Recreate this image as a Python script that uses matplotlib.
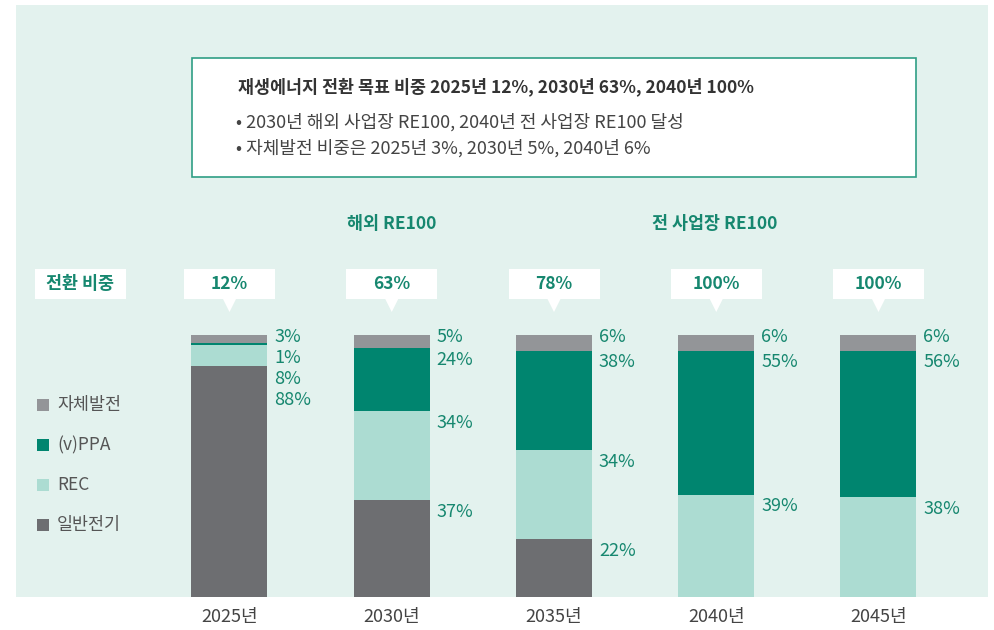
import matplotlib.pyplot as plt
import numpy as np
from matplotlib.patches import Rectangle, Polygon

plt.rcParams['font.family'] = ['Noto Sans CJK KR', 'DejaVu Sans']

# 연도별 전력 구성 비중 (%)
years = ['2025년', '2030년', '2035년', '2040년', '2045년']
general = [88, 37, 22, 0, 0]      # 일반전기
rec = [8, 34, 34, 39, 38]         # REC
ppa = [1, 24, 38, 55, 56]         # (v)PPA
self_gen = [3, 5, 6, 6, 6]        # 자체발전
re_share = ['12%', '63%', '78%', '100%', '100%']

series_names = ['일반전기', 'REC', '(v)PPA', '자체발전']
colors = ['#6d6e71', '#acdcd2', '#00856f', '#939598']
teal = '#16876f'

W, H = 995, 630
fig = plt.figure(figsize=(W / 100, H / 100), dpi=100)

# 배경/주석용 축 (픽셀 좌표)
bg = fig.add_axes([0, 0, 1, 1], zorder=0)
bg.set_xlim(0, W)
bg.set_ylim(H, 0)
bg.axis('off')

bg.add_patch(Rectangle((16, 5), 972, 592, facecolor='#e3f2ee', edgecolor='none'))

# 상단 설명 박스
bg.add_patch(Rectangle((192, 58), 724, 119, facecolor='white',
                       edgecolor='#2f9e85', linewidth=1.2))
bg.text(238, 87, '재생에너지 전환 목표 비중 2025년 12%, 2030년 63%, 2040년 100%',
        fontsize=12.5, fontweight='bold', color='#333333', va='center')
bg.text(236, 122, '• 2030년 해외 사업장 RE100, 2040년 전 사업장 RE100 달성',
        fontsize=13, color='#444444', va='center')
bg.text(236, 148, '• 자체발전 비중은 2025년 3%, 2030년 5%, 2040년 6%',
        fontsize=13, color='#444444', va='center')

bg.text(392, 224, '해외 RE100', fontsize=12.5, fontweight='bold', color=teal,
        ha='center', va='center')
bg.text(715, 224, '전 사업장 RE100', fontsize=12.5, fontweight='bold', color=teal,
        ha='center', va='center')

# 범례
legend_rows = [('자체발전', colors[3]), ('(v)PPA', colors[2]),
               ('REC', colors[1]), ('일반전기', colors[0])]
for k, (name, c) in enumerate(legend_rows):
    y = 405 + 40 * k
    bg.add_patch(Rectangle((37, y - 6), 12, 12, facecolor=c, edgecolor='none'))
    bg.text(57, y, name, fontsize=12.5, color='#555555', va='center')

# 막대 축: x 인덱스 i -> 229 + 162.25*i px, y 0..100 -> 597..335 px
step = 162.25
x0 = 229.5
ax = fig.add_axes([0, (H - 597) / H, 1, 262 / H], zorder=1)
ax.set_xlim(-x0 / step, (W - x0) / step)
ax.set_ylim(0, 100)
ax.axis('off')
ax.patch.set_alpha(0)

x = np.arange(len(years))
bw = 76 / step
stack = [general, rec, ppa, self_gen]
bottom = np.zeros(len(years))
for vals, c in zip(stack, colors):
    ax.bar(x, vals, bw, bottom=bottom, color=c, linewidth=0)
    bottom += np.array(vals)

# 구간별 값 라벨 (위에서부터)
for i in range(len(years)):
    tops = []
    top = 100
    for vals in [self_gen, ppa, rec, general]:
        if vals[i] > 0:
            tops.append((top, vals[i]))
        top -= vals[i]
    prev = None
    for j, (t, v) in enumerate(tops):
        if j == 0:
            yc = t - 0.8
        else:
            yc = min(t - 4.4, prev - 8)
        prev = yc
        ax.text(i + 45 / step, yc, f'{v}%', fontsize=13, color=teal,
                va='center', ha='left')

# 전환 비중 말풍선
def callout(cx, label, pointer=True):
    bg.add_patch(Rectangle((cx - 45.5, 269), 91, 30, facecolor='white',
                           edgecolor='none'))
    if pointer:
        bg.add_patch(Polygon([(cx - 7, 298), (cx + 7, 298), (cx, 312)],
                             closed=True, facecolor='white', edgecolor='none'))
    bg.text(cx, 284, label, fontsize=12.5, fontweight='bold', color=teal,
            ha='center', va='center')

callout(80.5, '전환 비중', pointer=False)
for i, s in enumerate(re_share):
    callout(x0 + step * i, s)

# 연도 라벨
for i, yr in enumerate(years):
    bg.text(x0 + step * i, 617, yr, fontsize=13, color='#444444',
            ha='center', va='center')

fig.savefig('out.png', dpi=100)
